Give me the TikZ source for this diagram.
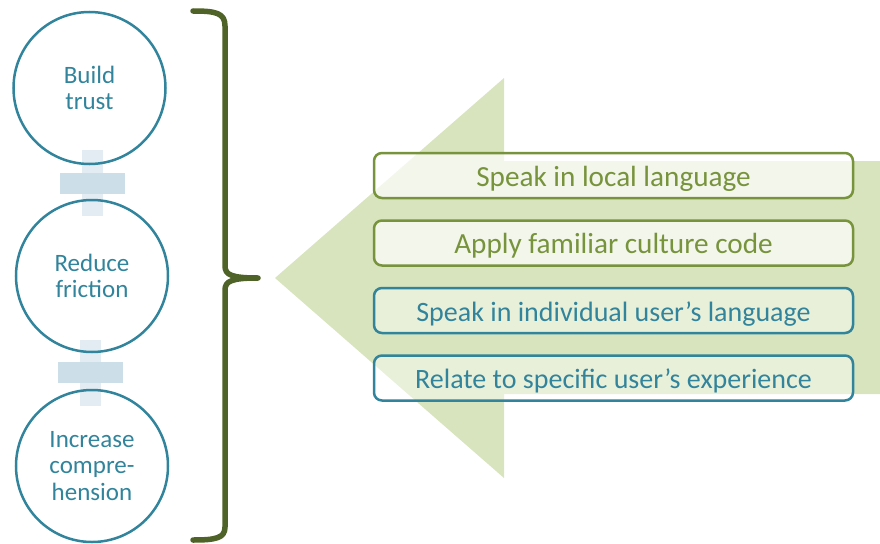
\documentclass[tikz,border=0pt]{standalone}
\usepackage{fontspec}
\setmainfont{Carlito}
\usetikzlibrary{positioning}
\definecolor{tealline}{HTML}{31849B}
\definecolor{oliveline}{HTML}{77933C}
\definecolor{bracecol}{HTML}{4F6228}
\definecolor{arrowfill}{HTML}{D7E4BD}
\definecolor{plusdark}{HTML}{CCDFE8}
\definecolor{pluslight}{HTML}{E2ECF2}
\tikzset{
    goal/.style={
        circle,
        draw=tealline,
        line width=2.5pt,
        minimum size=152pt,
        inner sep=0pt,
        align=center,
        text=tealline,
        font=\fontsize{25}{26.5}\selectfont
    },
    tactic/.style={
        rectangle,
        rounded corners=8pt,
        line width=2.5pt,
        minimum width=479pt,
        minimum height=45pt,
        inner sep=0pt,
        text height=24pt,
        text depth=3pt
    },
    greentactic/.style={tactic,draw=oliveline,fill=white,fill opacity=0.7,text opacity=1,text=oliveline,
        font=\fontsize{29.2}{32}\selectfont},
    tealtactic/.style={tactic,draw=tealline,fill=white,fill opacity=0.45,text opacity=1,text=tealline,
        font=\fontsize{28}{32}\selectfont}
}
\newcommand{\plusmark}[2] {
    \fill[pluslight] ({#1-10.5},{#2-33}) rectangle ({#1+10.5},{#2+33});
    \fill[plusdark] ({#1-32.5},{#2-10.5}) rectangle ({#1+32.5},{#2+10.5});
}

\begin{document}
\begin{tikzpicture}[x=1pt,y=-1pt]
        \useasboundingbox (0,0) rectangle (880,543);
        % big arrow
        \fill[arrowfill] (880,161) -- (504,161) -- (504,78) -- (275,278)
            -- (504,478) -- (504,394) -- (880,394) -- cycle;
        \plusmark{92.5}{183}
        \plusmark{90}{372.5}
        \node[goal] (trust) at (89.5,88) {Build\\trust};
        \node[goal] (friction) at (92,276) {Reduce\\friction};
        \node[goal] (comprehension) at (92,466) {Increase\\compre-\\hension};
        % brace
        \draw[bracecol,line width=5.5pt,line cap=round,line join=round]
            (193,11) .. controls (216,11) and (225,13) .. (225,26) -- (225,266)
            .. controls (225,275) and (232,278) .. (258,278)
            .. controls (232,278) and (225,281) .. (225,290) -- (225,527)
            .. controls (225,538) and (216,540) .. (193,540);
        \node[greentactic] (local) at (613.5,175.5) {Speak in local language};
        \node[greentactic,below=20pt of local] (culture) {Apply familiar culture code};
        \node[tealtactic,below=20pt of culture] (individual) {Speak in individual user’s language};
        \node[tealtactic,below=20pt of individual] (experience) {Relate to specific user’s experience};
    \end{tikzpicture}
\end{document}
